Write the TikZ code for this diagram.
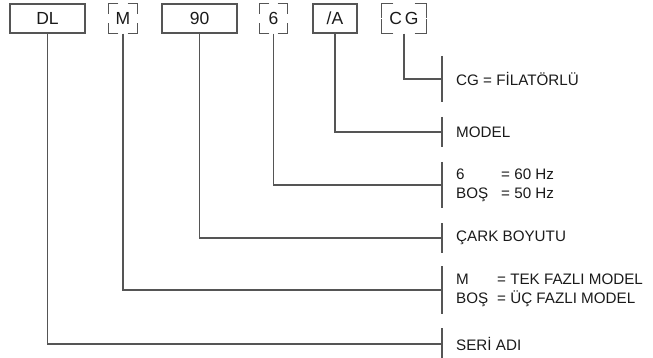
\documentclass[tikz,border=0pt]{standalone}
\usepackage{fontspec}
\setmainfont{Liberation Sans}
\usepackage{tikz}
\usetikzlibrary{positioning}

\definecolor{linegray}{HTML}{555555}
\definecolor{inkgray}{HTML}{1A1A1A}

% corners of a box with gaps in the middle of its sides
\newcommand{\gapcorners}[3]{%
    \draw[lead] ([xshift=#2]#1.north west) -- (#1.north west) -- ([yshift=-#3]#1.north west);
    \draw[lead] ([xshift=-#2]#1.north east) -- (#1.north east) -- ([yshift=-#3]#1.north east);
    \draw[lead] ([xshift=#2]#1.south west) -- (#1.south west) -- ([yshift=#3]#1.south west);
    \draw[lead] ([xshift=-#2]#1.south east) -- (#1.south east) -- ([yshift=#3]#1.south east);
}

\begin{document}
\begin{tikzpicture}[
        x=1pt, y=-1pt,
        box/.style={
            rectangle,
            draw=linegray,
            line width=1.1pt,
            minimum height=29pt,
            inner sep=0pt,
            text=inkgray,
            font=\fontsize{17.5}{19}\selectfont
        },
        gapbox/.style={
            box,
            draw=none
        },
        lead/.style={
            linegray,
            line width=1.1pt
        },
        desc/.style={
            right=14pt of #1,
            inner sep=0pt,
            align=left,
            text=inkgray,
            font=\fontsize{15.2}{19}\selectfont
        }
    ]

    \useasboundingbox (0,0) rectangle (653,358);

    % Code boxes
    \node[box, minimum width=75pt] (dl) at (47.5,18.5) {DL};
    \node[gapbox, minimum width=28pt] (phase) at (123,18.5) {M};
    \node[box, minimum width=75pt] (size) at (199.5,18.5) {90};
    \node[gapbox, minimum width=27pt] (freq) at (273.5,18.5) {6};
    \node[box, minimum width=44pt] (model) at (335,18.5) {/A};
    \node[gapbox, minimum width=44pt] (filter) at (404,18.5) {C\,G};

    \gapcorners{phase}{10pt}{11pt}
    \gapcorners{freq}{10pt}{11pt}
    \gapcorners{filter}{12pt}{14.5pt}

    % Tick points
    \coordinate (filtertick) at (442,79);
    \coordinate (modeltick) at (442,132);
    \coordinate (freqtick) at (442,185);
    \coordinate (sizetick) at (442,238);
    \coordinate (phasetick) at (442,290);
    \coordinate (dltick) at (442,344);

    % Descriptions
    \node[desc=filtertick] (filtertxt) {CG = FİLATÖRLÜ};
    \node[desc=modeltick] (modeltxt) {MODEL};
    \node[desc=freqtick] (freqtxt) {\makebox[45pt][l]{6}= 60 Hz\\\makebox[45pt][l]{BOŞ}= 50 Hz};
    \node[desc=sizetick] (sizetxt) {ÇARK BOYUTU};
    \node[desc=phasetick] (phasetxt) {\makebox[41pt][l]{M}= TEK FAZLI MODEL\\\makebox[41pt][l]{BOŞ}= ÜÇ FAZLI MODEL};
    \node[desc=dltick] (dltxt) {SERİ ADI};

    % Ticks
    \draw[lead] ([yshift=23pt]filtertick) -- ([yshift=-23pt]filtertick);
    \draw[lead] ([yshift=15pt]modeltick) -- ([yshift=-15pt]modeltick);
    \draw[lead] ([yshift=23pt]freqtick) -- ([yshift=-23pt]freqtick);
    \draw[lead] ([yshift=15pt]sizetick) -- ([yshift=-15pt]sizetick);
    \draw[lead] ([yshift=24pt]phasetick) -- ([yshift=-24pt]phasetick);
    \draw[lead] ([yshift=16pt]dltick) -- ([yshift=-16pt]dltick);

    % Leaders
    \draw[lead] (filter.south) |- (filtertick);
    \draw[lead] (model.south) |- (modeltick);
    \draw[lead] (freq.south) |- (freqtick);
    \draw[lead] (size.south) |- (sizetick);
    \draw[lead] (phase.south) |- (phasetick);
    \draw[lead] (dl.south) |- (dltick);

\end{tikzpicture}
\end{document}
